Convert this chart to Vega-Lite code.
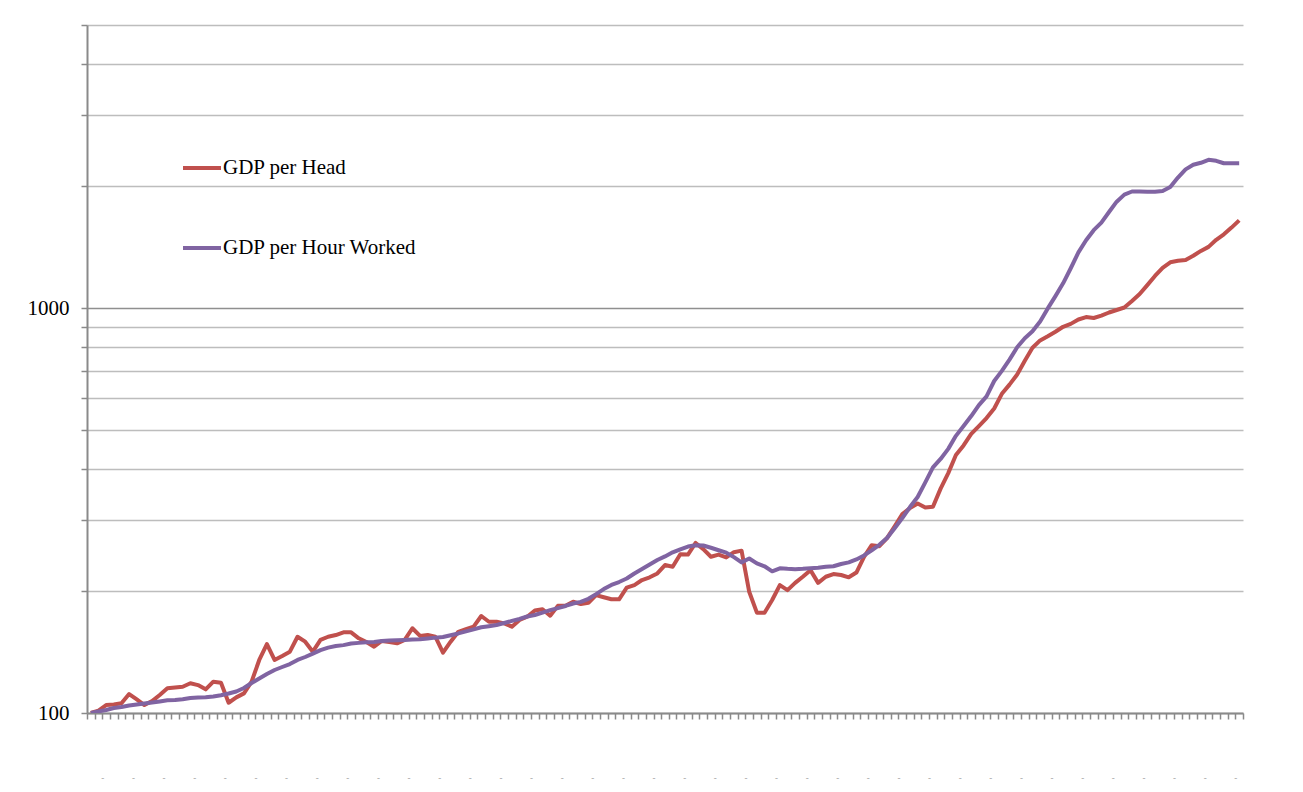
{
  "$schema": "https://vega.github.io/schema/vega-lite/v6.json",
  "autosize": {"type": "none"},
  "padding": {"left": 87, "top": 25, "right": 60, "bottom": 79},
  "width": 1156,
  "height": 688,
  "background": "white",
  "config": {"view": {"stroke": null}},
  "data": {"values": [
    {"t":0,"GDP per Head":100,"GDP per Hour Worked":100},
    {"t":1,"GDP per Head":101.4,"GDP per Hour Worked":100.9},
    {"t":2,"GDP per Head":104.6,"GDP per Hour Worked":101.7},
    {"t":3,"GDP per Head":105,"GDP per Hour Worked":102.9},
    {"t":4,"GDP per Head":105.7,"GDP per Hour Worked":103.5},
    {"t":5,"GDP per Head":111.4,"GDP per Hour Worked":104.4},
    {"t":6,"GDP per Head":108,"GDP per Hour Worked":105},
    {"t":7,"GDP per Head":104.6,"GDP per Hour Worked":105.5},
    {"t":8,"GDP per Head":107,"GDP per Hour Worked":106.1},
    {"t":9,"GDP per Head":110.8,"GDP per Hour Worked":106.8},
    {"t":10,"GDP per Head":115.1,"GDP per Hour Worked":107.5},
    {"t":11,"GDP per Head":115.6,"GDP per Hour Worked":107.7},
    {"t":12,"GDP per Head":116.1,"GDP per Hour Worked":108.1},
    {"t":13,"GDP per Head":118.4,"GDP per Hour Worked":108.9},
    {"t":14,"GDP per Head":117.2,"GDP per Hour Worked":109.2},
    {"t":15,"GDP per Head":114.4,"GDP per Hour Worked":109.3},
    {"t":16,"GDP per Head":119.5,"GDP per Hour Worked":109.8},
    {"t":17,"GDP per Head":118.8,"GDP per Hour Worked":110.6},
    {"t":18,"GDP per Head":106,"GDP per Hour Worked":111.7},
    {"t":19,"GDP per Head":109.3,"GDP per Hour Worked":113},
    {"t":20,"GDP per Head":111.8,"GDP per Hour Worked":115.3},
    {"t":21,"GDP per Head":119.5,"GDP per Hour Worked":118.6},
    {"t":22,"GDP per Head":135.2,"GDP per Hour Worked":121.7},
    {"t":23,"GDP per Head":148,"GDP per Hour Worked":124.8},
    {"t":24,"GDP per Head":135.2,"GDP per Hour Worked":127.7},
    {"t":25,"GDP per Head":138.3,"GDP per Hour Worked":129.9},
    {"t":26,"GDP per Head":141.7,"GDP per Hour Worked":132.1},
    {"t":27,"GDP per Head":154.3,"GDP per Hour Worked":135.2},
    {"t":28,"GDP per Head":150,"GDP per Hour Worked":137.5},
    {"t":29,"GDP per Head":141.7,"GDP per Hour Worked":140.2},
    {"t":30,"GDP per Head":151.5,"GDP per Hour Worked":143},
    {"t":31,"GDP per Head":154.3,"GDP per Hour Worked":145},
    {"t":32,"GDP per Head":155.8,"GDP per Hour Worked":146.3},
    {"t":33,"GDP per Head":158.2,"GDP per Hour Worked":147.1},
    {"t":34,"GDP per Head":158.2,"GDP per Hour Worked":148.4},
    {"t":35,"GDP per Head":152.9,"GDP per Hour Worked":149},
    {"t":36,"GDP per Head":149.7,"GDP per Hour Worked":149.5},
    {"t":37,"GDP per Head":145.8,"GDP per Hour Worked":149.7},
    {"t":38,"GDP per Head":150.6,"GDP per Hour Worked":150.5},
    {"t":39,"GDP per Head":149.7,"GDP per Hour Worked":151},
    {"t":40,"GDP per Head":148.6,"GDP per Hour Worked":151.3},
    {"t":41,"GDP per Head":151.5,"GDP per Hour Worked":151.5},
    {"t":42,"GDP per Head":161.9,"GDP per Hour Worked":151.8},
    {"t":43,"GDP per Head":155,"GDP per Hour Worked":152},
    {"t":44,"GDP per Head":155.8,"GDP per Hour Worked":152.7},
    {"t":45,"GDP per Head":154.3,"GDP per Hour Worked":153.5},
    {"t":46,"GDP per Head":140.9,"GDP per Hour Worked":154},
    {"t":47,"GDP per Head":150,"GDP per Hour Worked":155.6},
    {"t":48,"GDP per Head":158.7,"GDP per Hour Worked":157.2},
    {"t":49,"GDP per Head":161,"GDP per Hour Worked":159.1},
    {"t":50,"GDP per Head":163.4,"GDP per Hour Worked":160.9},
    {"t":51,"GDP per Head":173.6,"GDP per Hour Worked":162.8},
    {"t":52,"GDP per Head":168,"GDP per Hour Worked":163.8},
    {"t":53,"GDP per Head":168,"GDP per Hour Worked":164.9},
    {"t":54,"GDP per Head":166.5,"GDP per Hour Worked":166.8},
    {"t":55,"GDP per Head":163.4,"GDP per Hour Worked":168.8},
    {"t":56,"GDP per Head":169.7,"GDP per Hour Worked":170.7},
    {"t":57,"GDP per Head":172.9,"GDP per Hour Worked":173.1},
    {"t":58,"GDP per Head":179.1,"GDP per Hour Worked":174.6},
    {"t":59,"GDP per Head":180.4,"GDP per Hour Worked":177},
    {"t":60,"GDP per Head":173.9,"GDP per Hour Worked":179.5},
    {"t":61,"GDP per Head":183.9,"GDP per Hour Worked":181.6},
    {"t":62,"GDP per Head":183.9,"GDP per Hour Worked":183.8},
    {"t":63,"GDP per Head":188.2,"GDP per Hour Worked":186.4},
    {"t":64,"GDP per Head":185.9,"GDP per Hour Worked":188.1},
    {"t":65,"GDP per Head":187.2,"GDP per Hour Worked":191.4},
    {"t":66,"GDP per Head":195.5,"GDP per Hour Worked":196.6},
    {"t":67,"GDP per Head":193.1,"GDP per Hour Worked":202.3},
    {"t":68,"GDP per Head":190.9,"GDP per Hour Worked":207.1},
    {"t":69,"GDP per Head":190.9,"GDP per Hour Worked":210.6},
    {"t":70,"GDP per Head":204,"GDP per Hour Worked":214.8},
    {"t":71,"GDP per Head":207,"GDP per Hour Worked":221},
    {"t":72,"GDP per Head":213,"GDP per Hour Worked":226.7},
    {"t":73,"GDP per Head":216.3,"GDP per Hour Worked":232.6},
    {"t":74,"GDP per Head":221.1,"GDP per Hour Worked":238.6},
    {"t":75,"GDP per Head":231.9,"GDP per Hour Worked":243.6},
    {"t":76,"GDP per Head":229.7,"GDP per Hour Worked":249.3},
    {"t":77,"GDP per Head":246.7,"GDP per Hour Worked":253.7},
    {"t":78,"GDP per Head":246.2,"GDP per Hour Worked":257.7},
    {"t":79,"GDP per Head":263,"GDP per Hour Worked":259.6},
    {"t":80,"GDP per Head":253.9,"GDP per Hour Worked":259.2},
    {"t":81,"GDP per Head":243.1,"GDP per Hour Worked":255.9},
    {"t":82,"GDP per Head":246.2,"GDP per Hour Worked":252.3},
    {"t":83,"GDP per Head":242.2,"GDP per Hour Worked":248.8},
    {"t":84,"GDP per Head":249.5,"GDP per Hour Worked":242.6},
    {"t":85,"GDP per Head":251.7,"GDP per Hour Worked":235.5},
    {"t":86,"GDP per Head":199.2,"GDP per Hour Worked":240.8},
    {"t":87,"GDP per Head":176.9,"GDP per Hour Worked":234.1},
    {"t":88,"GDP per Head":176.9,"GDP per Hour Worked":230.3},
    {"t":89,"GDP per Head":190.1,"GDP per Hour Worked":223.8},
    {"t":90,"GDP per Head":207,"GDP per Hour Worked":227.7},
    {"t":91,"GDP per Head":201.1,"GDP per Hour Worked":227},
    {"t":92,"GDP per Head":209.6,"GDP per Hour Worked":226.6},
    {"t":93,"GDP per Head":217,"GDP per Hour Worked":227},
    {"t":94,"GDP per Head":225.3,"GDP per Hour Worked":227.7},
    {"t":95,"GDP per Head":209.6,"GDP per Hour Worked":228.3},
    {"t":96,"GDP per Head":217,"GDP per Hour Worked":229.6},
    {"t":97,"GDP per Head":220.3,"GDP per Hour Worked":230.3},
    {"t":98,"GDP per Head":219.2,"GDP per Hour Worked":233.3},
    {"t":99,"GDP per Head":216.3,"GDP per Hour Worked":235.5},
    {"t":100,"GDP per Head":222.3,"GDP per Hour Worked":239.5},
    {"t":101,"GDP per Head":243.1,"GDP per Hour Worked":245},
    {"t":102,"GDP per Head":259.6,"GDP per Hour Worked":252.3},
    {"t":103,"GDP per Head":258.2,"GDP per Hour Worked":260.2},
    {"t":104,"GDP per Head":270.2,"GDP per Hour Worked":270.6},
    {"t":105,"GDP per Head":289,"GDP per Hour Worked":286},
    {"t":106,"GDP per Head":309.9,"GDP per Hour Worked":303},
    {"t":107,"GDP per Head":320.5,"GDP per Hour Worked":322.5},
    {"t":108,"GDP per Head":329.2,"GDP per Hour Worked":341.5},
    {"t":109,"GDP per Head":321.7,"GDP per Hour Worked":371},
    {"t":110,"GDP per Head":323,"GDP per Hour Worked":404},
    {"t":111,"GDP per Head":358.2,"GDP per Hour Worked":424},
    {"t":112,"GDP per Head":391.2,"GDP per Hour Worked":449},
    {"t":113,"GDP per Head":433.6,"GDP per Hour Worked":483.5},
    {"t":114,"GDP per Head":458,"GDP per Hour Worked":511.4},
    {"t":115,"GDP per Head":489,"GDP per Hour Worked":541},
    {"t":116,"GDP per Head":511,"GDP per Hour Worked":576},
    {"t":117,"GDP per Head":535,"GDP per Hour Worked":605},
    {"t":118,"GDP per Head":565,"GDP per Hour Worked":660.5},
    {"t":119,"GDP per Head":614,"GDP per Hour Worked":699.5},
    {"t":120,"GDP per Head":647,"GDP per Hour Worked":746},
    {"t":121,"GDP per Head":685,"GDP per Hour Worked":800},
    {"t":122,"GDP per Head":741,"GDP per Hour Worked":842},
    {"t":123,"GDP per Head":798,"GDP per Hour Worked":876},
    {"t":124,"GDP per Head":832,"GDP per Hour Worked":926},
    {"t":125,"GDP per Head":852,"GDP per Hour Worked":998},
    {"t":126,"GDP per Head":874,"GDP per Hour Worked":1070},
    {"t":127,"GDP per Head":899,"GDP per Hour Worked":1151},
    {"t":128,"GDP per Head":914,"GDP per Hour Worked":1254},
    {"t":129,"GDP per Head":937,"GDP per Hour Worked":1372},
    {"t":130,"GDP per Head":950,"GDP per Hour Worked":1470},
    {"t":131,"GDP per Head":945,"GDP per Hour Worked":1557},
    {"t":132,"GDP per Head":958,"GDP per Hour Worked":1626},
    {"t":133,"GDP per Head":975,"GDP per Hour Worked":1727},
    {"t":134,"GDP per Head":989,"GDP per Hour Worked":1831},
    {"t":135,"GDP per Head":1003,"GDP per Hour Worked":1906},
    {"t":136,"GDP per Head":1041,"GDP per Hour Worked":1940},
    {"t":137,"GDP per Head":1083,"GDP per Hour Worked":1940},
    {"t":138,"GDP per Head":1139,"GDP per Hour Worked":1937},
    {"t":139,"GDP per Head":1200,"GDP per Hour Worked":1937},
    {"t":140,"GDP per Head":1257,"GDP per Hour Worked":1946},
    {"t":141,"GDP per Head":1297,"GDP per Hour Worked":1990},
    {"t":142,"GDP per Head":1308,"GDP per Hour Worked":2100},
    {"t":143,"GDP per Head":1315,"GDP per Hour Worked":2200},
    {"t":144,"GDP per Head":1346,"GDP per Hour Worked":2258},
    {"t":145,"GDP per Head":1384,"GDP per Hour Worked":2284},
    {"t":146,"GDP per Head":1416,"GDP per Hour Worked":2323},
    {"t":147,"GDP per Head":1474,"GDP per Hour Worked":2310},
    {"t":148,"GDP per Head":1521,"GDP per Hour Worked":2278},
    {"t":149,"GDP per Head":1580,"GDP per Hour Worked":2278},
    {"t":150,"GDP per Head":1646,"GDP per Hour Worked":2278}
  ]},
  "transform": [{"fold": ["GDP per Head", "GDP per Hour Worked"], "as": ["series", "value"]}],
  "mark": {"type": "line", "strokeWidth": 4, "strokeJoin": "round", "clip": true},
  "encoding": {
    "x": {
      "field": "t", "type": "quantitative",
      "scale": {"domain": [-0.5, 150.5], "nice": false, "zero": false},
      "axis": {
        "title": null,
        "values": [-0.5,0.5,1.5,2.5,3.5,4.5,5.5,6.5,7.5,8.5,9.5,10.5,11.5,12.5,13.5,14.5,15.5,16.5,17.5,18.5,19.5,20.5,21.5,22.5,23.5,24.5,25.5,26.5,27.5,28.5,29.5,30.5,31.5,32.5,33.5,34.5,35.5,36.5,37.5,38.5,39.5,40.5,41.5,42.5,43.5,44.5,45.5,46.5,47.5,48.5,49.5,50.5,51.5,52.5,53.5,54.5,55.5,56.5,57.5,58.5,59.5,60.5,61.5,62.5,63.5,64.5,65.5,66.5,67.5,68.5,69.5,70.5,71.5,72.5,73.5,74.5,75.5,76.5,77.5,78.5,79.5,80.5,81.5,82.5,83.5,84.5,85.5,86.5,87.5,88.5,89.5,90.5,91.5,92.5,93.5,94.5,95.5,96.5,97.5,98.5,99.5,100.5,101.5,102.5,103.5,104.5,105.5,106.5,107.5,108.5,109.5,110.5,111.5,112.5,113.5,114.5,115.5,116.5,117.5,118.5,119.5,120.5,121.5,122.5,123.5,124.5,125.5,126.5,127.5,128.5,129.5,130.5,131.5,132.5,133.5,134.5,135.5,136.5,137.5,138.5,139.5,140.5,141.5,142.5,143.5,144.5,145.5,146.5,147.5,148.5,149.5,150.5],
        "labelExpr": "(datum.value - 1.5) % 4 == 0 ? '-' : ''",
        "labelOverlap": false,
        "labelBound": false,
        "labelFlush": false,
        "labelPadding": 54,
        "labelFontSize": 9,
        "labelColor": "#9a9a9a",
        "labelFont": "Liberation Serif",
        "grid": false,
        "domainColor": "#8a8a8a",
        "domainWidth": 2,
        "tickColor": "#8a8a8a",
        "tickWidth": 1.5,
        "tickSize": 6
      }
    },
    "y": {
      "field": "value", "type": "quantitative",
      "scale": {"type": "log", "domain": [100, 5000], "nice": false},
      "axis": {
        "title": null,
        "values": [100,200,300,400,500,600,700,800,900,1000,2000,3000,4000,5000],
        "format": "d",
        "labelExpr": "datum.value == 100 || datum.value == 1000 ? datum.label : ''",
        "labelFont": "Liberation Serif",
        "labelFontSize": 21,
        "labelColor": "#000000",
        "labelPadding": 12,
        "labelOverlap": false,
        "labelBound": false,
        "labelFlush": false,
        "domainColor": "#8a8a8a",
        "domainWidth": 2,
        "tickColor": "#8a8a8a",
        "tickWidth": 1.5,
        "tickSize": 6,
        "grid": true,
        "gridColor": {"condition": {"test": "datum.value == 1000", "value": "#8f8f8f"}, "value": "#bdbdbd"},
        "gridWidth": 1.5
      }
    },
    "color": {
      "field": "series", "type": "nominal",
      "scale": {"domain": ["GDP per Head", "GDP per Hour Worked"], "range": ["#C0504D", "#8064A2"]},
      "legend": {
        "title": null,
        "orient": "none",
        "legendX": 94,
        "legendY": 122,
        "padding": 0,
        "symbolType": "stroke",
        "symbolSize": 1444,
        "symbolStrokeWidth": 4,
        "labelFont": "Liberation Serif",
        "labelFontSize": 21,
        "labelColor": "#000000",
        "labelOffset": 0,
        "rowPadding": 49,
        "labelLimit": 400
      }
    }
  }
}
